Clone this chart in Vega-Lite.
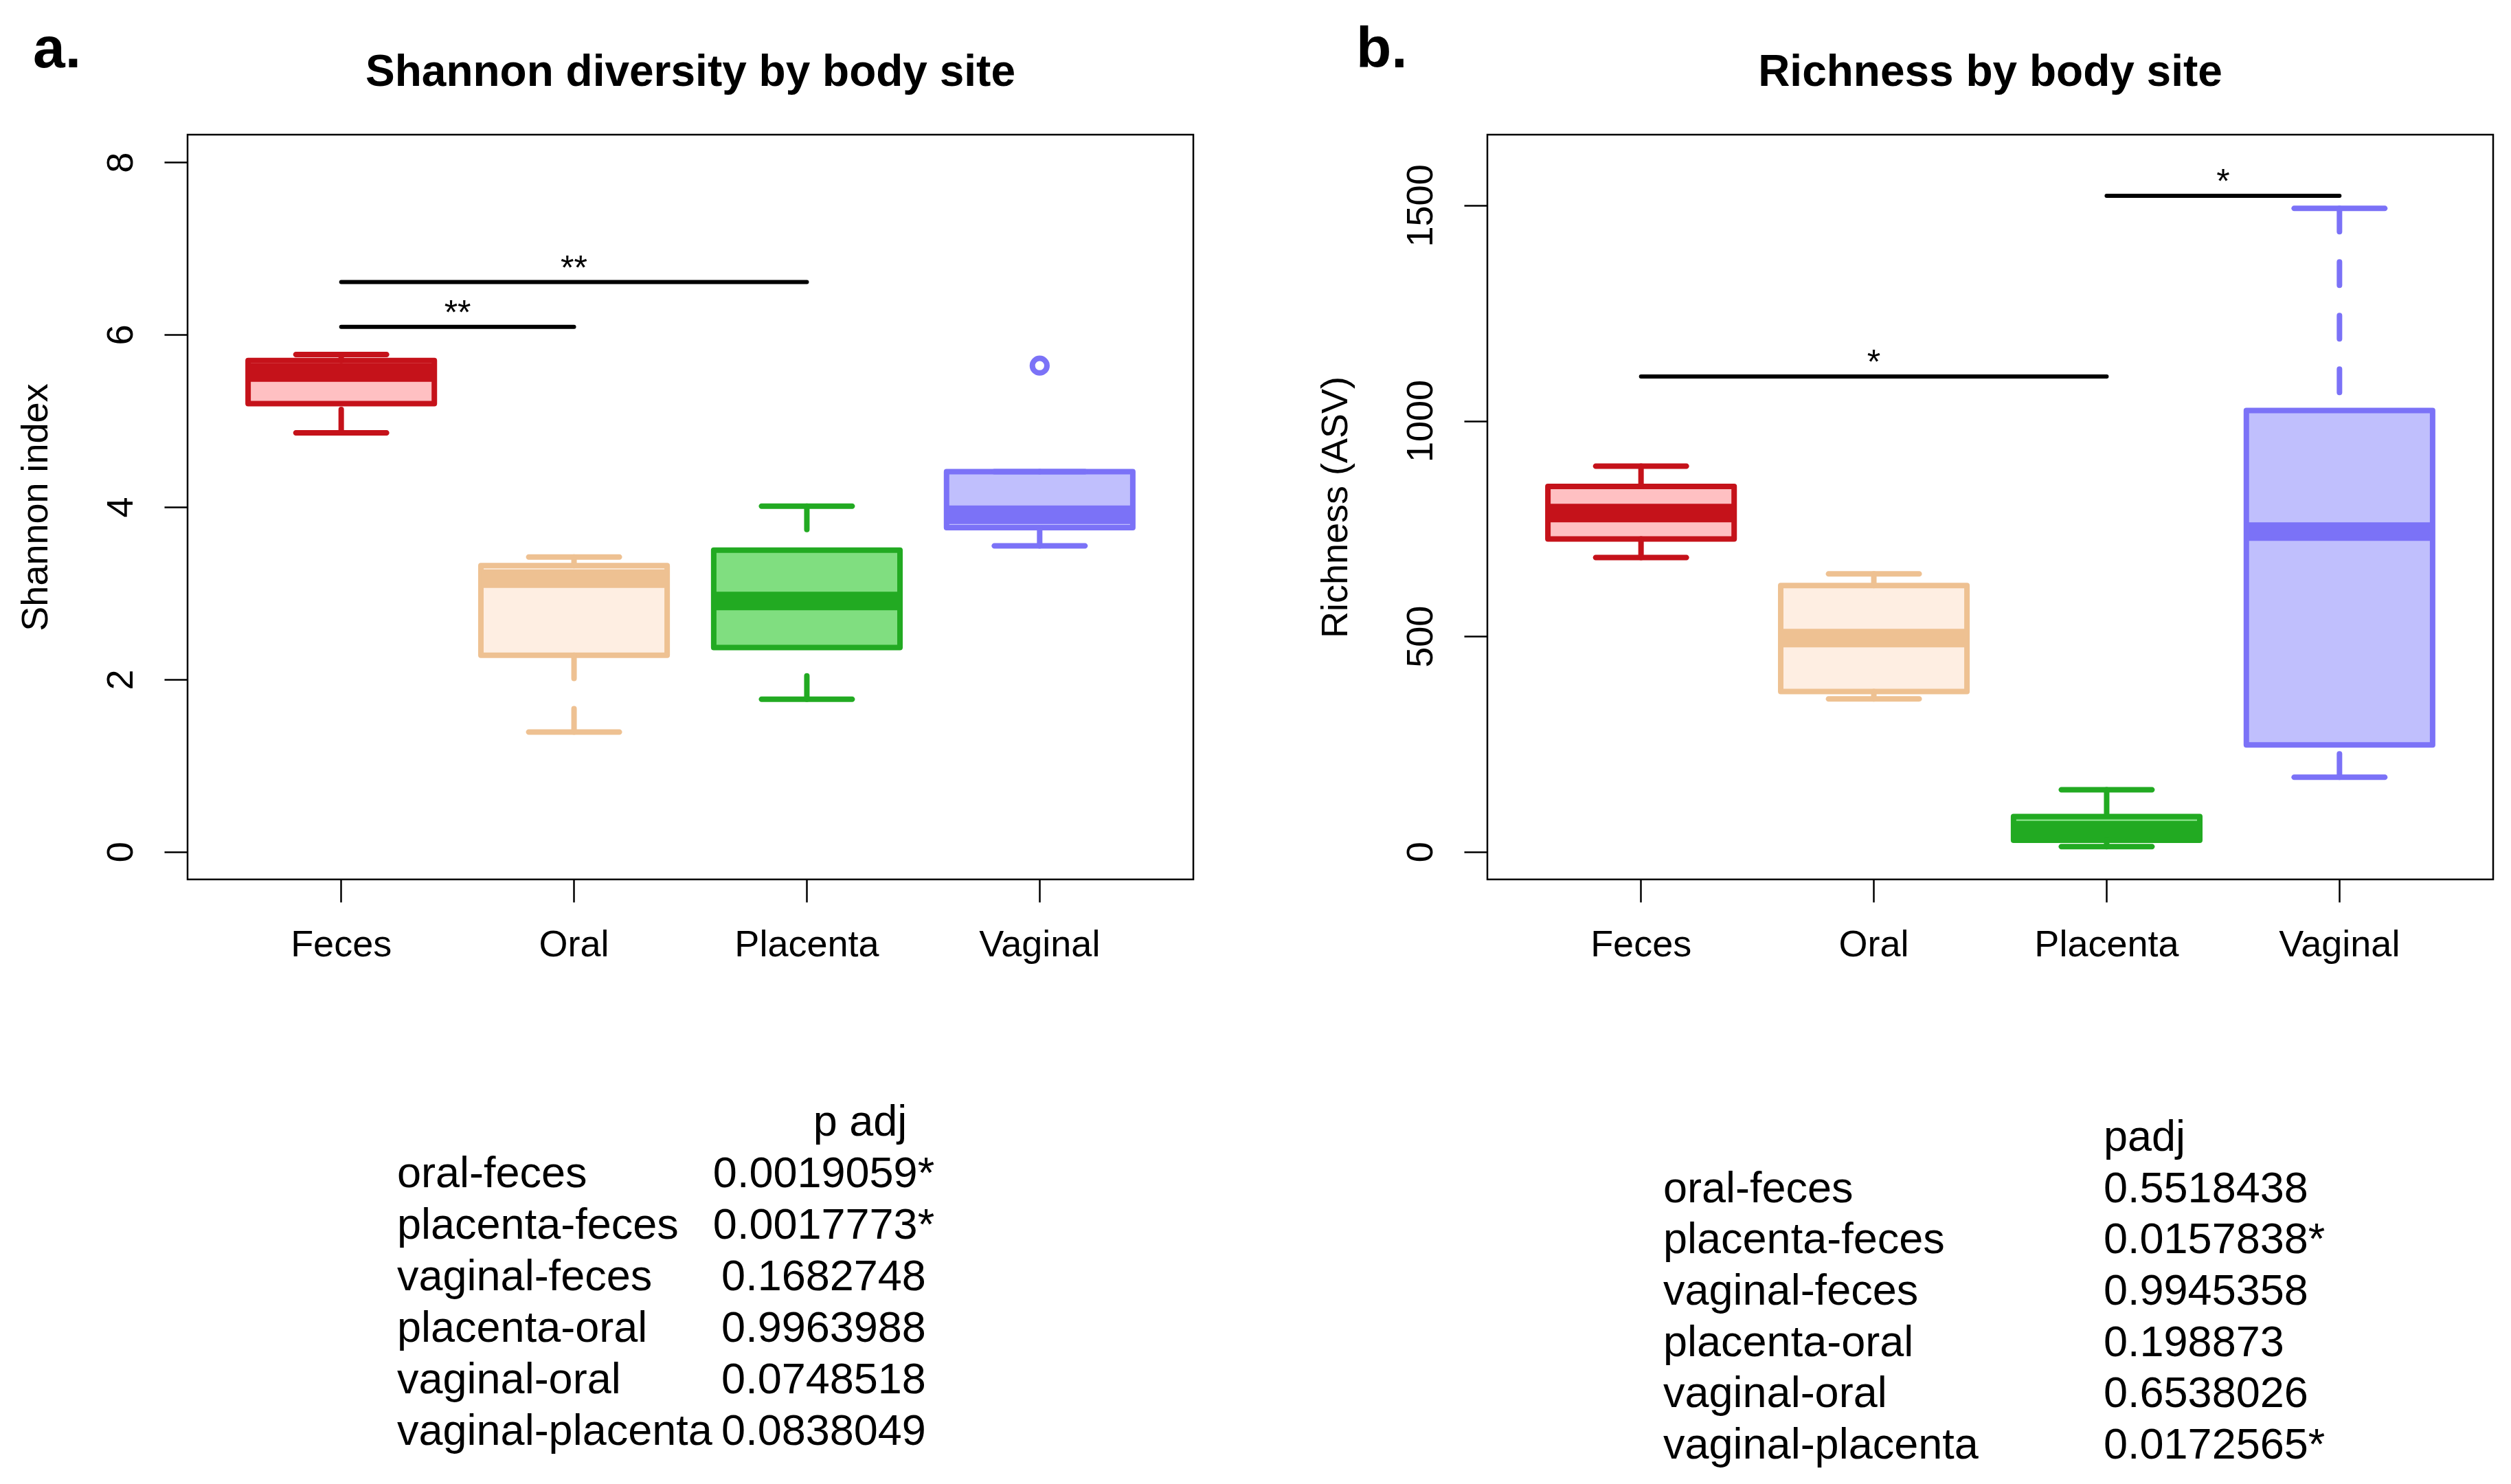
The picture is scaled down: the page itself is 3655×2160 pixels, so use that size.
{
  "$schema": "https://vega.github.io/schema/vega-lite/v6.json",
  "background": "white",
  "padding": {"left": 23, "top": 30, "right": 5, "bottom": 5},
  "config": {
    "font": "Liberation Sans",
    "view": {"stroke": "black", "strokeWidth": 2.5},
    "axis": {"labelFont": "Liberation Sans", "labelFontSize": 54, "labelColor": "black", "labelLimit": 0, "titleFont": "Liberation Sans", "titleFontSize": 54, "titleFontWeight": "normal", "titleColor": "black", "tickColor": "black", "tickWidth": 2.5, "domain": false, "grid": false, "labelOverlap": false, "labelFlush": false},
    "title": {"font": "Liberation Sans", "color": "black"},
    "tick": {"opacity": 1},
    "point": {"opacity": 1}
  },
  "datasets": {
    "boxesA": [
      {"site": "Feces", "lower": 4.86, "q1": 5.20, "median": 5.56, "q3": 5.70, "upper": 5.77},
      {"site": "Oral", "lower": 1.39, "q1": 2.28, "median": 3.17, "q3": 3.32, "upper": 3.42},
      {"site": "Placenta", "lower": 1.77, "q1": 2.37, "median": 2.91, "q3": 3.50, "upper": 4.01},
      {"site": "Vaginal", "lower": 3.55, "q1": 3.76, "median": 3.91, "q3": 4.41, "upper": 4.41}
    ],
    "outliersA": [{"site": "Vaginal", "value": 5.64}],
    "sigA": [
      {"from": "Feces", "to": "Oral", "y": 6.09, "label": "**"},
      {"from": "Feces", "to": "Placenta", "y": 6.61, "label": "**"}
    ],
    "boxesB": [
      {"site": "Feces", "lower": 683, "q1": 726, "median": 786, "q3": 848, "upper": 895},
      {"site": "Oral", "lower": 355, "q1": 372, "median": 496, "q3": 618, "upper": 645},
      {"site": "Placenta", "lower": 12, "q1": 27, "median": 50, "q3": 82, "upper": 144},
      {"site": "Vaginal", "lower": 173, "q1": 248, "median": 743, "q3": 1024, "upper": 1493}
    ],
    "sigB": [
      {"from": "Feces", "to": "Placenta", "y": 1103, "label": "*"},
      {"from": "Placenta", "to": "Vaginal", "y": 1522, "label": "*"}
    ],
    "tableA": [
      {"row": 1, "comparison": "oral-feces", "padj": "0.0019059*"},
      {"row": 2, "comparison": "placenta-feces", "padj": "0.0017773*"},
      {"row": 3, "comparison": "vaginal-feces", "padj": "0.1682748"},
      {"row": 4, "comparison": "placenta-oral", "padj": "0.9963988"},
      {"row": 5, "comparison": "vaginal-oral", "padj": "0.0748518"},
      {"row": 6, "comparison": "vaginal-placenta", "padj": "0.0838049"}
    ],
    "tableB": [
      {"row": 1, "comparison": "oral-feces", "padj": "0.5518438"},
      {"row": 2, "comparison": "placenta-feces", "padj": "0.0157838*"},
      {"row": 3, "comparison": "vaginal-feces", "padj": "0.9945358"},
      {"row": 4, "comparison": "placenta-oral", "padj": "0.198873"},
      {"row": 5, "comparison": "vaginal-oral", "padj": "0.6538026"},
      {"row": 6, "comparison": "vaginal-placenta", "padj": "0.0172565*"}
    ]
  },
  "spacing": 176,
  "hconcat": [
    {
      "title": {"text": "a.", "anchor": "start", "frame": "group", "dx": -225, "offset": -109, "fontSize": 84, "fontWeight": "bold", "baseline": "alphabetic"},
      "spacing": 273,
      "bounds": "flush",
      "vconcat": [
        {
          "width": 1464, "height": 1084,
          "title": {"text": "Shannon diversity by body site", "anchor": "middle", "frame": "group", "offset": 7, "fontSize": 64, "fontWeight": "bold", "baseline": "alphabetic"},
          "layer": [
            {
              "data": {"name": "boxesA"},
              "mark": {"type": "bar", "strokeWidth": 8, "strokeJoin": "round"},
              "encoding": {
                "x": {"field": "site", "type": "nominal", "scale": {"type": "band", "domain": ["Feces", "Oral", "Placenta", "Vaginal"], "paddingInner": 0.2, "paddingOuter": 0.26}, "axis": {"title": null, "labelAngle": 0, "tickSize": 33, "labelPadding": 78, "labelBaseline": "alphabetic"}},
                "y": {"field": "q1", "type": "quantitative", "scale": {"domain": [-0.32, 8.32], "nice": false, "zero": false}, "axis": {"title": "Shannon index", "values": [0, 2, 4, 6, 8], "format": "d", "labelAngle": 270, "labelAlign": "center", "labelBaseline": "alphabetic", "labelPadding": 47, "tickSize": 34, "titleAngle": 270, "titleX": -205, "titleY": 542, "titleAlign": "center", "titleBaseline": "alphabetic"}},
                "y2": {"field": "q3"},
                "fill": {"field": "site", "type": "nominal", "scale": {"domain": ["Feces", "Oral", "Placenta", "Vaginal"], "range": ["#FFC0C2", "#FEEEE2", "#80DE80", "#C0BFFD"]}, "legend": null},
                "stroke": {"field": "site", "type": "nominal", "scale": {"domain": ["Feces", "Oral", "Placenta", "Vaginal"], "range": ["#C5121A", "#EEC192", "#22AA22", "#7B72F7"]}, "legend": null}
              }
            },
            {
              "data": {"name": "boxesA"},
              "mark": {"type": "tick", "thickness": 27, "size": 271, "opacity": 1},
              "encoding": {
                "x": {"field": "site", "type": "nominal"},
                "y": {"field": "median", "type": "quantitative"},
                "color": {"field": "site", "type": "nominal", "scale": {"domain": ["Feces", "Oral", "Placenta", "Vaginal"], "range": ["#C5121A", "#EEC192", "#22AA22", "#7B72F7"]}, "legend": null}
              }
            },
            {
              "data": {"name": "boxesA"},
              "mark": {"type": "rule", "strokeWidth": 8, "strokeCap": "round", "strokeDash": [34, 44]},
              "encoding": {
                "x": {"field": "site", "type": "nominal"},
                "y": {"field": "lower", "type": "quantitative"},
                "y2": {"field": "q1"},
                "color": {"field": "site", "type": "nominal", "legend": null}
              }
            },
            {
              "data": {"name": "boxesA"},
              "mark": {"type": "rule", "strokeWidth": 8, "strokeCap": "round", "strokeDash": [34, 44]},
              "encoding": {
                "x": {"field": "site", "type": "nominal"},
                "y": {"field": "upper", "type": "quantitative"},
                "y2": {"field": "q3"},
                "color": {"field": "site", "type": "nominal", "legend": null}
              }
            },
            {
              "data": {"name": "boxesA"},
              "mark": {"type": "tick", "thickness": 8, "size": 140, "cornerRadius": 4, "opacity": 1},
              "encoding": {
                "x": {"field": "site", "type": "nominal"},
                "y": {"field": "lower", "type": "quantitative"},
                "color": {"field": "site", "type": "nominal", "legend": null}
              }
            },
            {
              "data": {"name": "boxesA"},
              "mark": {"type": "tick", "thickness": 8, "size": 140, "cornerRadius": 4, "opacity": 1},
              "encoding": {
                "x": {"field": "site", "type": "nominal"},
                "y": {"field": "upper", "type": "quantitative"},
                "color": {"field": "site", "type": "nominal", "legend": null}
              }
            },
            {
              "data": {"name": "outliersA"},
              "mark": {"type": "point", "filled": false, "strokeWidth": 8, "size": 452, "opacity": 1},
              "encoding": {
                "x": {"field": "site", "type": "nominal"},
                "y": {"field": "value", "type": "quantitative"},
                "color": {"field": "site", "type": "nominal", "legend": null}
              }
            },
            {
              "data": {"name": "sigA"},
              "mark": {"type": "rule", "strokeWidth": 6, "strokeCap": "round", "color": "black"},
              "encoding": {
                "x": {"field": "from", "type": "nominal"},
                "x2": {"field": "to"},
                "y": {"field": "y", "type": "quantitative"}
              }
            },
            {
              "data": {"name": "sigA"},
              "transform": [{"filter": "indexof(['Feces','Oral','Placenta','Vaginal'], datum.to) - indexof(['Feces','Oral','Placenta','Vaginal'], datum.from) == 1"}],
              "mark": {"type": "text", "fontSize": 50, "baseline": "alphabetic", "align": "center", "dy": -4, "color": "black"},
              "encoding": {
                "x": {"field": "from", "type": "nominal", "bandPosition": 1.125},
                "y": {"field": "y", "type": "quantitative"},
                "text": {"field": "label"}
              }
            },
            {
              "data": {"name": "sigA"},
              "transform": [{"filter": "indexof(['Feces','Oral','Placenta','Vaginal'], datum.to) - indexof(['Feces','Oral','Placenta','Vaginal'], datum.from) == 2"}],
              "mark": {"type": "text", "fontSize": 50, "baseline": "alphabetic", "align": "center", "dy": -4, "color": "black"},
              "encoding": {
                "x": {"field": "from", "type": "nominal", "bandPosition": 1.75},
                "y": {"field": "y", "type": "quantitative"},
                "text": {"field": "label"}
              }
            }
          ]
        },
        {
          "width": 1464, "height": 580,
          "view": {"stroke": null},
          "layer": [
            {
              "data": {"name": "tableA"},
              "mark": {"type": "text", "align": "left", "baseline": "alphabetic", "fontSize": 63, "color": "black"},
              "encoding": {
                "x": {"datum": "comparison", "type": "nominal", "scale": {"type": "point", "domain": ["comparison", "p adj"], "range": [305, 926], "padding": 0}, "axis": null},
                "y": {"field": "row", "type": "quantitative", "scale": {"domain": [0, 6], "range": [100, 550], "nice": false, "zero": false}, "axis": null},
                "text": {"field": "comparison"}
              }
            },
            {
              "data": {"name": "tableA"},
              "mark": {"type": "text", "align": "center", "baseline": "alphabetic", "fontSize": 63, "color": "black"},
              "encoding": {
                "x": {"datum": "p adj", "type": "nominal"},
                "y": {"field": "row", "type": "quantitative"},
                "text": {"field": "padj"}
              }
            },
            {
              "data": {"values": [{"row": 0, "label": "p adj"}]},
              "mark": {"type": "text", "align": "center", "baseline": "alphabetic", "fontSize": 63, "color": "black", "dx": 53},
              "encoding": {
                "x": {"datum": "p adj", "type": "nominal"},
                "y": {"field": "row", "type": "quantitative"},
                "text": {"field": "label"}
              }
            }
          ]
        }
      ]
    },
    {
      "title": {"text": "b.", "anchor": "start", "frame": "group", "dx": -191, "offset": -109, "fontSize": 84, "fontWeight": "bold", "baseline": "alphabetic"},
      "spacing": 273,
      "bounds": "flush",
      "vconcat": [
        {
          "width": 1464, "height": 1084,
          "title": {"text": "Richness by body site", "anchor": "middle", "frame": "group", "offset": 7, "fontSize": 64, "fontWeight": "bold", "baseline": "alphabetic"},
          "layer": [
            {
              "data": {"name": "boxesB"},
              "mark": {"type": "bar", "strokeWidth": 8, "strokeJoin": "round"},
              "encoding": {
                "x": {"field": "site", "type": "nominal", "scale": {"type": "band", "domain": ["Feces", "Oral", "Placenta", "Vaginal"], "paddingInner": 0.2, "paddingOuter": 0.26}, "axis": {"title": null, "labelAngle": 0, "tickSize": 33, "labelPadding": 78, "labelBaseline": "alphabetic"}},
                "y": {"field": "q1", "type": "quantitative", "scale": {"domain": [-64, 1664], "nice": false, "zero": false}, "axis": {"title": "Richness (ASV)", "values": [0, 500, 1000, 1500], "format": "d", "labelAngle": 270, "labelAlign": "center", "labelBaseline": "alphabetic", "labelPadding": 47, "tickSize": 34, "titleAngle": 270, "titleX": -205, "titleY": 542, "titleAlign": "center", "titleBaseline": "alphabetic"}},
                "y2": {"field": "q3"},
                "fill": {"field": "site", "type": "nominal", "scale": {"domain": ["Feces", "Oral", "Placenta", "Vaginal"], "range": ["#FFC0C2", "#FEEEE2", "#80DE80", "#C0BFFD"]}, "legend": null},
                "stroke": {"field": "site", "type": "nominal", "scale": {"domain": ["Feces", "Oral", "Placenta", "Vaginal"], "range": ["#C5121A", "#EEC192", "#22AA22", "#7B72F7"]}, "legend": null}
              }
            },
            {
              "data": {"name": "boxesB"},
              "mark": {"type": "tick", "thickness": 27, "size": 271, "opacity": 1},
              "encoding": {
                "x": {"field": "site", "type": "nominal"},
                "y": {"field": "median", "type": "quantitative"},
                "color": {"field": "site", "type": "nominal", "scale": {"domain": ["Feces", "Oral", "Placenta", "Vaginal"], "range": ["#C5121A", "#EEC192", "#22AA22", "#7B72F7"]}, "legend": null}
              }
            },
            {
              "data": {"name": "boxesB"},
              "mark": {"type": "rule", "strokeWidth": 8, "strokeCap": "round", "strokeDash": [34, 44]},
              "encoding": {
                "x": {"field": "site", "type": "nominal"},
                "y": {"field": "lower", "type": "quantitative"},
                "y2": {"field": "q1"},
                "color": {"field": "site", "type": "nominal", "legend": null}
              }
            },
            {
              "data": {"name": "boxesB"},
              "mark": {"type": "rule", "strokeWidth": 8, "strokeCap": "round", "strokeDash": [34, 44]},
              "encoding": {
                "x": {"field": "site", "type": "nominal"},
                "y": {"field": "upper", "type": "quantitative"},
                "y2": {"field": "q3"},
                "color": {"field": "site", "type": "nominal", "legend": null}
              }
            },
            {
              "data": {"name": "boxesB"},
              "mark": {"type": "tick", "thickness": 8, "size": 140, "cornerRadius": 4, "opacity": 1},
              "encoding": {
                "x": {"field": "site", "type": "nominal"},
                "y": {"field": "lower", "type": "quantitative"},
                "color": {"field": "site", "type": "nominal", "legend": null}
              }
            },
            {
              "data": {"name": "boxesB"},
              "mark": {"type": "tick", "thickness": 8, "size": 140, "cornerRadius": 4, "opacity": 1},
              "encoding": {
                "x": {"field": "site", "type": "nominal"},
                "y": {"field": "upper", "type": "quantitative"},
                "color": {"field": "site", "type": "nominal", "legend": null}
              }
            },
            {
              "data": {"name": "sigB"},
              "mark": {"type": "rule", "strokeWidth": 6, "strokeCap": "round", "color": "black"},
              "encoding": {
                "x": {"field": "from", "type": "nominal"},
                "x2": {"field": "to"},
                "y": {"field": "y", "type": "quantitative"}
              }
            },
            {
              "data": {"name": "sigB"},
              "transform": [{"filter": "indexof(['Feces','Oral','Placenta','Vaginal'], datum.to) - indexof(['Feces','Oral','Placenta','Vaginal'], datum.from) == 1"}],
              "mark": {"type": "text", "fontSize": 50, "baseline": "alphabetic", "align": "center", "dy": -4, "color": "black"},
              "encoding": {
                "x": {"field": "from", "type": "nominal", "bandPosition": 1.125},
                "y": {"field": "y", "type": "quantitative"},
                "text": {"field": "label"}
              }
            },
            {
              "data": {"name": "sigB"},
              "transform": [{"filter": "indexof(['Feces','Oral','Placenta','Vaginal'], datum.to) - indexof(['Feces','Oral','Placenta','Vaginal'], datum.from) == 2"}],
              "mark": {"type": "text", "fontSize": 50, "baseline": "alphabetic", "align": "center", "dy": -4, "color": "black"},
              "encoding": {
                "x": {"field": "from", "type": "nominal", "bandPosition": 1.75},
                "y": {"field": "y", "type": "quantitative"},
                "text": {"field": "label"}
              }
            }
          ]
        },
        {
          "width": 1464, "height": 580,
          "view": {"stroke": null},
          "layer": [
            {
              "data": {"name": "tableB"},
              "mark": {"type": "text", "align": "left", "baseline": "alphabetic", "fontSize": 63, "color": "black"},
              "encoding": {
                "x": {"datum": "comparison", "type": "nominal", "scale": {"type": "point", "domain": ["comparison", "padj"], "range": [256, 897], "padding": 0}, "axis": null},
                "y": {"field": "row", "type": "quantitative", "scale": {"domain": [0, 6], "range": [122, 570], "nice": false, "zero": false}, "axis": null},
                "text": {"field": "comparison"}
              }
            },
            {
              "data": {"name": "tableB"},
              "mark": {"type": "text", "align": "left", "baseline": "alphabetic", "fontSize": 63, "color": "black"},
              "encoding": {
                "x": {"datum": "padj", "type": "nominal"},
                "y": {"field": "row", "type": "quantitative"},
                "text": {"field": "padj"}
              }
            },
            {
              "data": {"values": [{"row": 0, "label": "padj"}]},
              "mark": {"type": "text", "align": "left", "baseline": "alphabetic", "fontSize": 63, "color": "black"},
              "encoding": {
                "x": {"datum": "padj", "type": "nominal"},
                "y": {"field": "row", "type": "quantitative"},
                "text": {"field": "label"}
              }
            }
          ]
        }
      ]
    }
  ]
}
